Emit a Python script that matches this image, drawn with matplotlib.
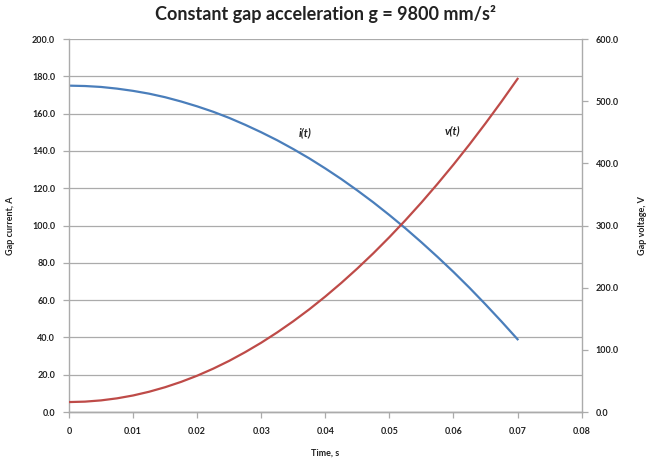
import numpy as np
import matplotlib
matplotlib.use("Agg")
import matplotlib.pyplot as plt

# time, s
t = [0, 0.0025, 0.005, 0.0075, 0.01, 0.0125, 0.015, 0.0175, 0.02, 0.0225,
     0.025, 0.0275, 0.03, 0.0325, 0.035, 0.0375, 0.04, 0.0425, 0.045, 0.0475,
     0.05, 0.0525, 0.055, 0.0575, 0.06, 0.0625, 0.065, 0.0675, 0.07]
# gap current, A
current = [175.0, 174.8, 174.3, 173.4, 172.2, 170.7, 168.8, 166.5, 163.9, 161.0,
           157.7, 154.0, 150.0, 145.7, 141.0, 136.0, 130.6, 124.9, 118.8, 112.4,
           105.6, 98.5, 91.0, 83.2, 75.1, 66.6, 57.7, 48.5, 39.0]
# gap voltage, V
voltage = [16.0, 16.7, 18.7, 22.0, 26.6, 32.6, 39.9, 48.5, 58.4, 69.7,
           82.3, 96.3, 111.5, 128.1, 146.0, 165.2, 185.8, 207.7, 230.9, 255.4,
           281.3, 308.5, 337.0, 366.9, 398.0, 430.5, 464.4, 499.5, 536.0]

x_ticks = [0, 0.01, 0.02, 0.03, 0.04, 0.05, 0.06, 0.07, 0.08]
x_labels = ["0", "0.01", "0.02", "0.03", "0.04", "0.05", "0.06", "0.07", "0.08"]
left_ticks = np.arange(0, 201, 20)
right_ticks = np.arange(0, 601, 100)

plt.rcParams["font.family"] = ["Lato", "DejaVu Sans"]
grey = "#ababab"
blue = "#4a7ebb"
red = "#be4b48"

fig = plt.figure(figsize=(6.47, 4.58), dpi=100)
ax = fig.add_axes([0.1066, 0.1004, 0.7924, 0.8144])
ax2 = ax.twinx()

ax.plot(t, current, color=blue, linewidth=1.6, solid_joinstyle="round")
ax2.plot(t, voltage, color=red, linewidth=1.6, solid_joinstyle="round")

ax.set_xlim(0, 0.08)
ax.set_ylim(0, 200)
ax2.set_ylim(0, 600)
ax.set_xticks(x_ticks)
ax.set_xticklabels(x_labels)
ax.set_yticks(left_ticks)
ax.set_yticklabels([f"{v:.1f}" for v in left_ticks])
ax2.set_yticks(right_ticks)
ax2.set_yticklabels([f"{v:.1f}" for v in right_ticks])

ax.grid(axis="y", color=grey, linewidth=0.9)
ax.set_axisbelow(True)

for a in (ax, ax2):
    a.spines["top"].set_visible(False)
    for side in ("left", "right", "bottom"):
        a.spines[side].set_color(grey)
        a.spines[side].set_linewidth(1.0)
    a.tick_params(colors=grey, labelcolor="#222222", labelsize=6.5,
                  length=4, width=0.9, direction="out")
ax.spines["right"].set_visible(False)
ax2.spines["left"].set_visible(False)
for lab in ax.get_xticklabels() + ax.get_yticklabels() + ax2.get_yticklabels():
    lab.set_fontweight("bold")
ax.tick_params(axis="x", pad=7)
ax.tick_params(axis="y", pad=6)
ax2.tick_params(axis="y", pad=6)

ax.set_xlabel("Time, s", fontsize=6.5, fontweight="bold", color="#222222", labelpad=9)
ax.set_ylabel("Gap current, A", fontsize=6.5, fontweight="bold", color="#222222", labelpad=12)
ax2.set_ylabel("Gap voltage, V", fontsize=6.5, fontweight="bold", color="#222222",
               rotation=90, labelpad=14)

ax.text(0.0368, 149.7, "i(t)", fontsize=8, fontstyle="italic", fontweight="bold",
        ha="center", va="center", color="#222222")
ax.text(0.0599, 150.8, "v(t)", fontsize=8, fontstyle="italic", fontweight="bold",
        ha="center", va="center", color="#222222")

fig.suptitle("Constant gap acceleration g = 9800 mm/s\u00b2", x=0.503, y=0.99,
             fontsize=13, fontweight="bold", color="#222222")

fig.savefig("out.png", dpi=100)
